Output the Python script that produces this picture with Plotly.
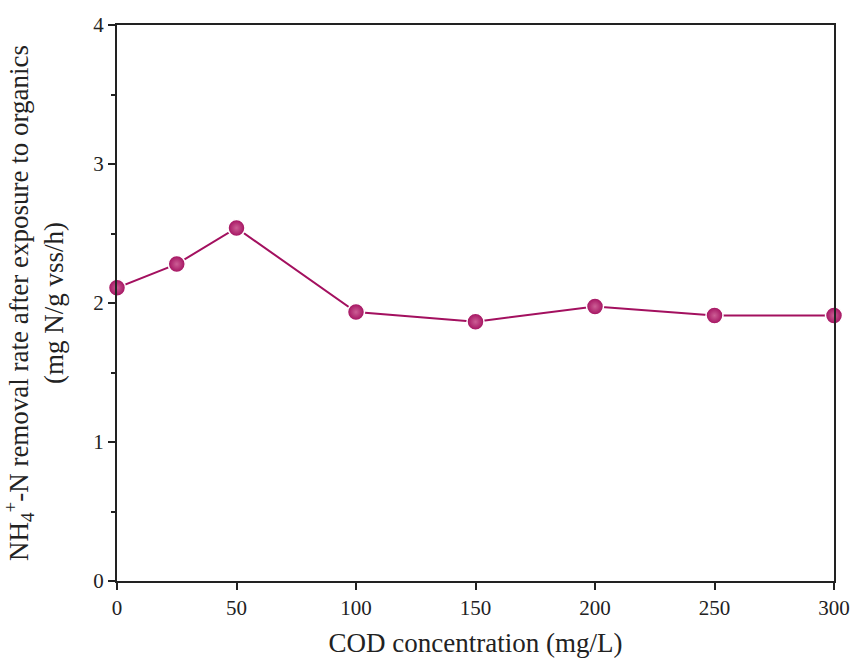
import plotly.graph_objects as go

cod = [0, 25, 50, 100, 150, 200, 250, 300]
rate = [2.11, 2.28, 2.54, 1.935, 1.865, 1.975, 1.91, 1.91]

x_ticks = [0, 50, 100, 150, 200, 250, 300]
y_ticks = [0, 1, 2, 3, 4]

color = "#A3105F"
font = "Liberation Serif, Times New Roman, serif"

fig = go.Figure()
fig.add_trace(go.Scatter(
    x=cod, y=rate, mode="lines+markers",
    line=dict(color=color, width=2),
    marker=dict(size=17, color=color,
                gradient=dict(type="radial", color="#CC5E95"),
                line=dict(color="white", width=1.5)),
    showlegend=False,
    cliponaxis=False,
))

fig.update_layout(
    width=862, height=669,
    margin=dict(l=117, r=24, t=25, b=88),
    plot_bgcolor="white", paper_bgcolor="white",
    font=dict(family=font, size=21, color="#222"),
)
fig.update_xaxes(
    range=[0, 300], tickvals=x_ticks, ticks="outside", ticklen=7, tickwidth=2,
    tickcolor="#222",
    showline=True, linecolor="#222", linewidth=2, mirror=True, showgrid=False,
    zeroline=False, tickfont=dict(size=21),
    title=dict(text="COD concentration (mg/L)", font=dict(size=27), standoff=14),
)
fig.update_yaxes(
    range=[0, 4], tickvals=y_ticks, ticks="outside", ticklen=7, tickwidth=2,
    tickcolor="#222",
    showline=True, linecolor="#222", linewidth=2, mirror=True, showgrid=False,
    zeroline=False, tickfont=dict(size=21),
    minor=dict(dtick=0.5, ticks="outside", ticklen=4, tickwidth=2, tickcolor="#222", showgrid=False),
    title=dict(text="NH<sub>4</sub><sup>+</sup>-N removal rate after exposure to organics<br>(mg N/g vss/h)",
               font=dict(size=27), standoff=22),
)

fig.write_html("out.html", config={"displayModeBar": False},
               post_script="document.body.style.margin='0';")
